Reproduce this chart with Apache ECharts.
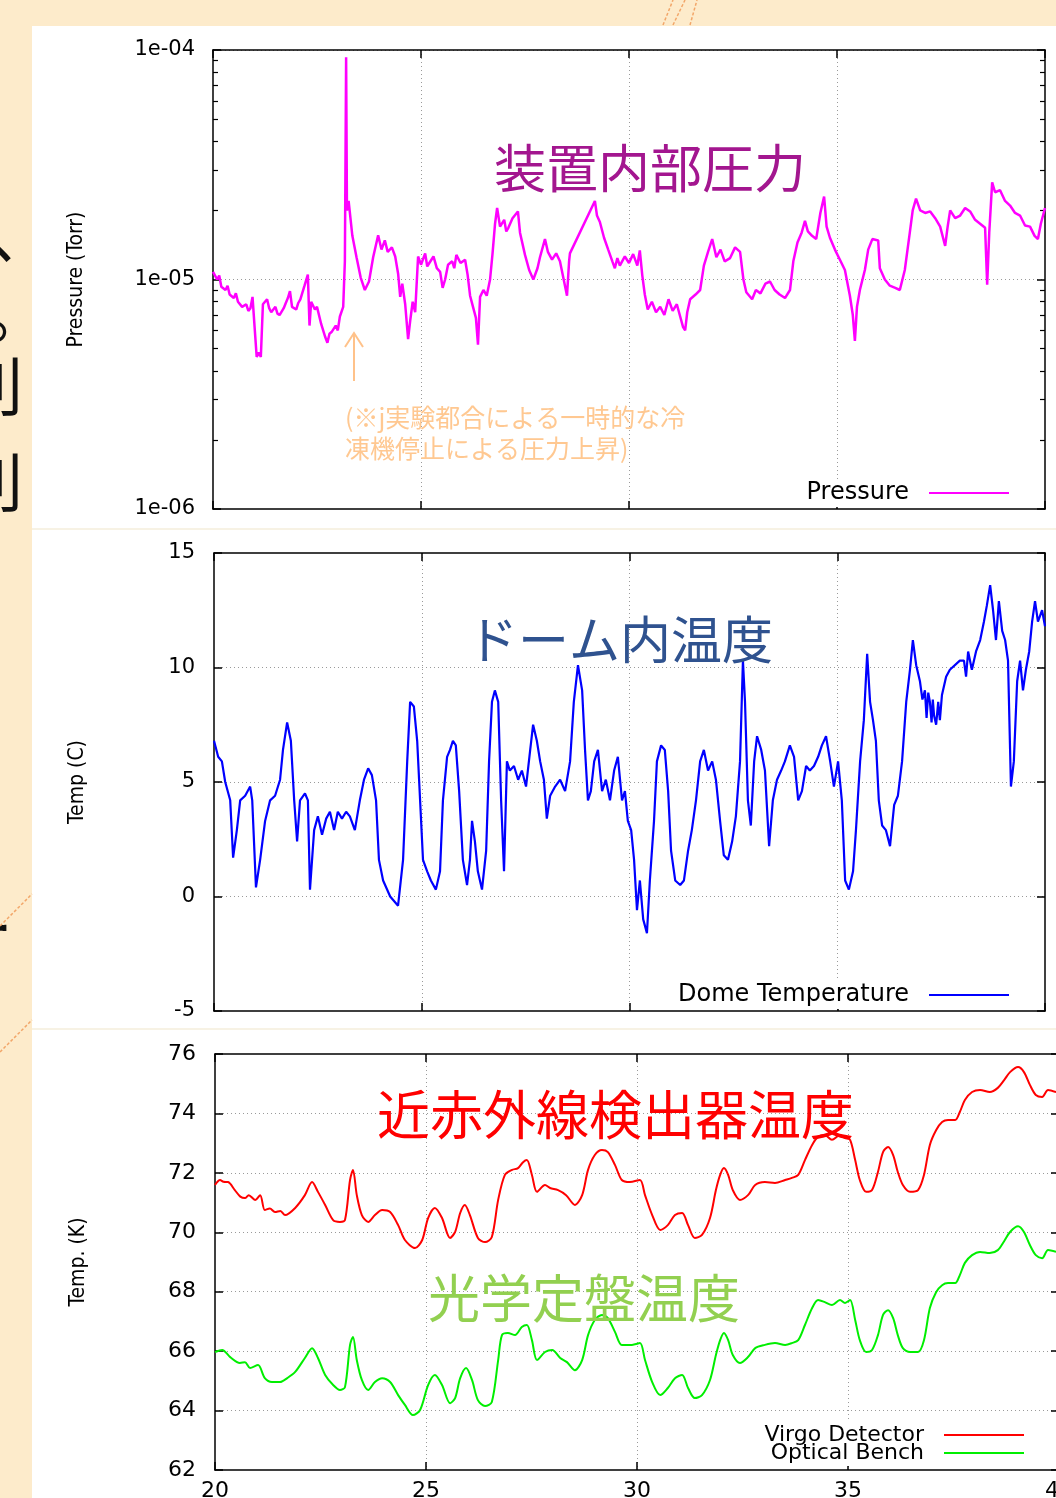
<!DOCTYPE html>
<html>
<head>
<meta charset="utf-8">
<script src="https://cdn.jsdelivr.net/npm/echarts@6/dist/echarts.min.js"></script>
<style>
  html, body { margin: 0; padding: 0; background: #FDEBCB; }
  #chart { width: 1056px; height: 1498px; }
</style>
</head>
<body>
<div id="chart"></div>
<script>
// ---- data: [day, value] ----
// chamber pressure, in units of 1e-6 Torr
const pressureMicroTorr = [
  [20.0,10.8],[20.1,10.0],[20.15,10.4],[20.2,9.3],[20.3,9.0],[20.35,9.4],[20.4,8.6],[20.5,8.3],[20.55,8.7],[20.6,8.0],
  [20.7,7.6],[20.8,7.8],[20.85,7.3],[20.9,7.5],[20.95,8.4],[21.0,6.2],[21.05,4.6],[21.1,4.8],[21.15,4.6],[21.2,7.8],
  [21.3,8.2],[21.35,7.5],[21.4,7.2],[21.5,7.6],[21.55,7.1],[21.6,7.0],[21.7,7.5],[21.75,7.9],[21.8,8.3],[21.85,8.9],
  [21.9,7.6],[22.0,7.4],[22.05,7.9],[22.1,8.2],[22.2,9.4],[22.28,10.5],[22.32,6.3],[22.36,8.0],[22.45,7.4],[22.5,7.6],
  [22.6,6.4],[22.7,5.6],[22.75,5.3],[22.8,5.8],[22.85,5.9],[22.95,6.3],[23.0,6.0],[23.05,6.9],[23.13,7.6],[23.17,12.0],
  [23.2,93],[23.22,20],[23.26,22],[23.35,15.5],[23.45,12.5],[23.55,10.2],[23.65,9.0],[23.75,9.8],[23.85,12.5],[23.97,15.6],
  [24.05,13.5],[24.13,14.8],[24.2,13.2],[24.3,13.8],[24.38,12.6],[24.45,10.6],[24.5,8.4],[24.55,9.6],[24.62,7.8],[24.69,5.5],
  [24.74,6.6],[24.8,8.0],[24.86,7.2],[24.93,12.6],[25.0,11.6],[25.1,13.0],[25.15,11.4],[25.2,11.8],[25.3,12.6],[25.38,11.2],
  [25.46,10.8],[25.52,9.2],[25.58,10.0],[25.65,11.6],[25.75,12.0],[25.8,11.2],[25.85,12.8],[25.95,11.8],[26.06,12.2],[26.12,10.5],
  [26.18,8.5],[26.25,7.6],[26.32,6.8],[26.37,5.2],[26.42,8.4],[26.5,9.0],[26.58,8.5],[26.66,10.0],[26.72,13.0],[26.78,17.5],
  [26.83,20.5],[26.9,17.0],[27.0,18.2],[27.05,16.2],[27.1,16.8],[27.2,18.5],[27.33,19.8],[27.38,16.0],[27.5,12.8],[27.6,11.0],
  [27.7,10.0],[27.8,11.2],[27.86,12.5],[27.98,15.0],[28.05,13.2],[28.15,12.2],[28.25,13.0],[28.34,12.0],[28.42,10.2],[28.51,8.5],
  [28.56,12.0],[28.58,13.0],[29.18,22.0],[29.23,19.0],[29.3,17.8],[29.4,15.2],[29.5,13.5],[29.6,12.0],[29.66,11.2],[29.72,12.4],
  [29.78,11.5],[29.9,12.6],[30.0,11.8],[30.1,12.9],[30.2,11.5],[30.26,13.4],[30.32,10.4],[30.38,8.6],[30.45,7.4],[30.55,8.0],
  [30.65,7.2],[30.75,7.6],[30.85,7.0],[30.95,8.2],[31.05,7.3],[31.15,7.8],[31.23,6.9],[31.3,6.2],[31.35,6.0],[31.4,7.2],
  [31.47,8.2],[31.6,8.6],[31.71,9.0],[31.8,11.5],[31.9,13.2],[32.0,15.0],[32.1,12.5],[32.2,13.5],[32.3,12.0],[32.43,12.4],
  [32.55,13.8],[32.67,13.2],[32.75,10.0],[32.82,8.8],[32.96,8.2],[33.05,9.0],[33.16,8.7],[33.28,9.6],[33.39,9.8],[33.5,9.0],
  [33.62,8.6],[33.75,8.3],[33.87,9.0],[33.95,12.0],[34.05,14.5],[34.15,16.0],[34.23,18.0],[34.3,16.2],[34.4,15.5],[34.5,15.0],
  [34.6,19.5],[34.69,23.0],[34.75,17.0],[34.83,15.2],[34.95,13.5],[35.07,12.2],[35.19,11.0],[35.31,8.5],[35.38,7.0],[35.43,5.4],
  [35.48,7.6],[35.55,9.0],[35.67,11.0],[35.75,13.5],[35.85,15.0],[35.99,14.8],[36.03,11.2],[36.15,10.0],[36.27,9.4],[36.4,9.2],
  [36.51,9.0],[36.63,11.0],[36.75,16.0],[36.82,20.0],[36.9,22.5],[37.0,20.0],[37.12,19.5],[37.24,19.8],[37.36,18.5],[37.48,17.0],
  [37.6,14.0],[37.66,17.0],[37.72,20.0],[37.84,18.5],[37.96,19.0],[38.08,20.5],[38.2,19.8],[38.32,18.2],[38.44,17.5],[38.56,16.8],
  [38.61,9.5],[38.66,16.0],[38.73,26.5],[38.8,24.0],[38.92,24.5],[39.04,22.0],[39.16,21.0],[39.28,19.5],[39.4,19.0],[39.52,17.2],
  [39.64,17.0],[39.75,15.5],[39.83,15.0],[39.9,17.5],[40.0,20.5]
];

// temperature inside the dome, deg C
const domeTemp = [
  [20.0,6.8],[20.1,6.1],[20.19,5.9],[20.27,5.0],[20.39,4.2],[20.46,1.7],[20.55,2.9],[20.63,4.2],[20.75,4.4],[20.87,4.8],
  [20.92,4.2],[21.01,0.4],[21.11,1.6],[21.23,3.3],[21.35,4.2],[21.47,4.4],[21.59,5.1],[21.66,6.4],[21.76,7.6],[21.85,6.8],
  [21.93,4.2],[22.0,2.4],[22.07,4.2],[22.19,4.5],[22.26,4.2],[22.31,0.3],[22.41,2.9],[22.5,3.5],[22.6,2.7],[22.7,3.4],
  [22.79,3.7],[22.89,2.9],[22.98,3.7],[23.08,3.4],[23.18,3.7],[23.27,3.5],[23.39,2.9],[23.51,4.2],[23.61,5.1],[23.71,5.6],
  [23.8,5.3],[23.9,4.2],[23.97,1.6],[24.07,0.7],[24.24,0.0],[24.43,-0.4],[24.55,1.6],[24.65,5.9],[24.72,8.5],[24.81,8.3],
  [24.89,6.8],[24.96,4.2],[25.03,1.6],[25.13,1.1],[25.22,0.7],[25.34,0.3],[25.44,1.1],[25.51,4.2],[25.61,6.1],[25.68,6.4],
  [25.75,6.8],[25.82,6.6],[25.9,4.6],[25.99,1.6],[26.09,0.5],[26.16,1.6],[26.21,3.3],[26.28,2.4],[26.35,1.1],[26.45,0.3],
  [26.55,2.0],[26.62,5.9],[26.69,8.5],[26.76,9.0],[26.84,8.5],[26.91,4.2],[26.98,1.1],[27.05,5.9],[27.12,5.5],[27.22,5.7],
  [27.32,5.1],[27.41,5.5],[27.51,4.8],[27.61,6.4],[27.68,7.5],[27.77,6.8],[27.85,5.9],[27.94,5.1],[28.01,3.4],[28.09,4.4],
  [28.21,4.8],[28.33,5.1],[28.45,4.6],[28.57,5.9],[28.66,8.5],[28.76,10.1],[28.86,9.0],[28.93,6.4],[29.0,4.2],[29.07,4.6],
  [29.15,5.9],[29.24,6.4],[29.34,4.6],[29.43,5.1],[29.53,4.2],[29.63,5.5],[29.72,6.1],[29.82,4.2],[29.89,4.6],[29.96,3.3],
  [30.04,2.9],[30.11,1.6],[30.18,-0.6],[30.25,0.7],[30.33,-1.0],[30.42,-1.6],[30.49,0.7],[30.59,3.3],[30.66,5.9],[30.76,6.6],
  [30.85,6.4],[30.93,4.6],[31.0,2.0],[31.1,0.7],[31.22,0.5],[31.31,0.7],[31.41,2.0],[31.5,2.9],[31.6,4.2],[31.7,5.9],
  [31.79,6.4],[31.89,5.5],[31.99,5.9],[32.08,5.1],[32.18,3.3],[32.27,1.8],[32.37,1.6],[32.47,2.4],[32.56,3.5],[32.66,5.9],
  [32.73,10.3],[32.78,8.5],[32.85,4.2],[32.92,3.1],[33.0,5.9],[33.07,7.0],[33.17,6.4],[33.26,5.5],[33.36,2.2],[33.45,4.2],
  [33.55,5.1],[33.65,5.5],[33.74,5.9],[33.86,6.6],[33.96,6.1],[34.06,4.2],[34.15,4.6],[34.25,5.7],[34.34,5.5],[34.44,5.7],
  [34.54,6.1],[34.63,6.6],[34.73,7.0],[34.83,5.9],[34.92,4.8],[35.02,5.9],[35.11,4.2],[35.19,0.7],[35.28,0.3],[35.38,1.1],
  [35.45,2.9],[35.55,5.9],[35.64,7.7],[35.72,10.6],[35.79,8.5],[35.86,7.7],[35.93,6.8],[36.0,4.2],[36.08,3.1],[36.17,2.9],
  [36.27,2.2],[36.37,4.0],[36.46,4.4],[36.56,5.9],[36.66,8.5],[36.75,9.9],[36.82,11.2],[36.9,10.1],[36.99,9.4],[37.05,8.6],
  [37.11,9.0],[37.15,7.8],[37.19,8.9],[37.23,8.5],[37.27,7.6],[37.3,8.6],[37.33,7.9],[37.38,7.5],[37.43,8.5],[37.47,7.7],
  [37.52,8.8],[37.62,9.6],[37.71,9.9],[37.95,10.3],[38.05,10.3],[38.1,9.6],[38.15,10.7],[38.24,9.9],[38.34,10.7],[38.44,11.2],
  [38.53,12.0],[38.6,12.7],[38.68,13.6],[38.75,12.5],[38.82,11.2],[38.89,12.9],[38.97,11.6],[39.04,11.2],[39.11,10.3],[39.18,4.8],
  [39.25,5.9],[39.33,9.4],[39.4,10.3],[39.47,9.0],[39.54,9.9],[39.62,10.7],[39.69,12.0],[39.76,12.9],[39.83,12.0],[39.93,12.5],
  [40.0,11.8]
];

// near-infrared detector temperature, K
const virgoDetector = [
  [20.0,71.59],[20.12,71.76],[20.2,71.7],[20.31,71.69],[20.47,71.42],[20.6,71.2],[20.71,71.15],[20.8,71.25],[20.95,71.09],[21.07,71.25],
  [21.18,70.75],[21.3,70.8],[21.42,70.68],[21.55,70.72],[21.66,70.58],[21.9,70.82],[22.13,71.25],[22.3,71.69],[22.44,71.36],[22.61,70.92],
  [22.8,70.41],[22.96,70.35],[23.08,70.41],[23.2,71.76],[23.27,72.1],[23.36,71.25],[23.48,70.58],[23.63,70.35],[23.79,70.58],[23.96,70.75],
  [24.15,70.68],[24.34,70.24],[24.5,69.74],[24.74,69.47],[24.91,69.74],[25.05,70.48],[25.21,70.82],[25.38,70.48],[25.57,69.81],[25.69,70.01],
  [25.81,70.65],[25.92,70.92],[26.04,70.58],[26.23,69.81],[26.4,69.67],[26.56,69.84],[26.71,71.09],[26.87,71.93],[27.04,72.1],[27.18,72.16],
  [27.3,72.36],[27.39,72.43],[27.51,71.93],[27.63,71.36],[27.82,71.59],[27.94,71.49],[28.13,71.42],[28.32,71.25],[28.53,70.92],[28.7,71.25],
  [28.84,72.1],[29.0,72.6],[29.17,72.77],[29.31,72.7],[29.48,72.26],[29.64,71.76],[29.83,71.69],[30.07,71.76],[30.19,71.25],[30.36,70.58],
  [30.55,70.08],[30.73,70.24],[30.9,70.58],[31.07,70.65],[31.21,70.24],[31.37,69.81],[31.54,69.91],[31.73,70.48],[31.87,71.42],[31.97,71.93],
  [32.06,72.16],[32.16,71.93],[32.27,71.42],[32.44,71.09],[32.63,71.25],[32.8,71.59],[33.03,71.69],[33.27,71.66],[33.51,71.76],[33.67,71.83],
  [33.82,71.93],[33.98,72.43],[34.15,72.94],[34.29,73.21],[34.45,73.27],[34.62,73.11],[34.81,73.27],[34.93,73.17],[35.05,73.11],[35.17,72.43],
  [35.28,71.76],[35.43,71.36],[35.57,71.42],[35.71,72.03],[35.83,72.7],[35.95,72.87],[36.07,72.6],[36.18,72.03],[36.3,71.59],[36.47,71.36],
  [36.66,71.42],[36.8,71.93],[36.94,72.94],[37.09,73.44],[37.23,73.71],[37.37,73.78],[37.54,73.78],[37.65,74.05],[37.77,74.45],[37.94,74.72],
  [38.13,74.79],[38.36,74.72],[38.55,74.86],[38.7,75.12],[38.84,75.39],[39.03,75.56],[39.17,75.39],[39.31,74.96],[39.45,74.62],[39.6,74.55],
  [39.74,74.79],[39.93,74.72]
];

// optical bench temperature, K
const opticalBench = [
  [20.0,65.97],[20.17,66.04],[20.36,65.8],[20.59,65.6],[20.71,65.63],[20.83,65.43],[21.02,65.53],[21.18,65.09],[21.35,64.96],[21.54,64.96],
  [21.71,65.09],[21.9,65.3],[22.13,65.77],[22.3,66.1],[22.44,65.77],[22.61,65.2],[22.8,64.86],[22.96,64.69],[23.08,64.79],[23.2,66.21],
  [23.27,66.48],[23.36,65.7],[23.48,65.03],[23.63,64.69],[23.79,64.96],[23.96,65.09],[24.15,64.96],[24.34,64.52],[24.5,64.19],[24.69,63.85],
  [24.86,64.02],[25.05,64.86],[25.21,65.2],[25.38,64.86],[25.57,64.25],[25.69,64.42],[25.81,65.09],[25.95,65.43],[26.09,65.03],[26.23,64.35],
  [26.4,64.15],[26.56,64.29],[26.71,65.7],[26.8,66.54],[26.94,66.61],[27.11,66.54],[27.27,66.81],[27.39,66.88],[27.51,66.37],[27.63,65.7],
  [27.82,65.97],[27.99,66.04],[28.18,65.77],[28.34,65.63],[28.53,65.36],[28.7,65.7],[28.84,66.54],[29.0,67.05],[29.17,67.22],[29.31,67.11],
  [29.48,66.64],[29.64,66.21],[29.88,66.21],[30.07,66.27],[30.19,65.7],[30.36,64.96],[30.55,64.52],[30.73,64.76],[30.9,65.09],[31.07,65.2],
  [31.21,64.76],[31.37,64.42],[31.54,64.52],[31.73,65.03],[31.87,65.87],[31.97,66.37],[32.06,66.61],[32.16,66.37],[32.27,65.87],[32.44,65.6],
  [32.63,65.8],[32.8,66.1],[33.03,66.21],[33.27,66.27],[33.51,66.21],[33.67,66.27],[33.82,66.37],[33.98,66.88],[34.15,67.45],[34.29,67.72],
  [34.45,67.65],[34.62,67.55],[34.81,67.72],[34.93,67.62],[35.05,67.72],[35.17,67.05],[35.28,66.37],[35.43,65.97],[35.57,66.04],[35.71,66.54],
  [35.83,67.22],[35.95,67.38],[36.07,67.11],[36.18,66.54],[36.3,66.1],[36.47,65.97],[36.66,65.97],[36.8,66.37],[36.94,67.45],[37.09,67.99],
  [37.23,68.22],[37.37,68.29],[37.54,68.29],[37.65,68.56],[37.77,68.97],[37.94,69.23],[38.13,69.34],[38.36,69.3],[38.55,69.4],[38.7,69.7],
  [38.84,70.01],[39.03,70.2],[39.17,70.01],[39.31,69.57],[39.45,69.23],[39.6,69.13],[39.74,69.4],[39.93,69.34]
];

// axis settings
const dayRange = [20, 40];
const dayStep = 5;
const pressureRange = [1e-6, 1e-4];
const pressureDecades = [-6, -4];
const minorMultipliers = [2, 3, 4, 5, 6, 7, 8, 9];
const domeRange = [-5, 15];
const domeStep = 5;
const kelvinRange = [62, 76];
const kelvinStep = 2;

// headings and notes
const headings = ['装置内部圧力', 'ドーム内温度', '近赤外線検出器温度', '光学定盤温度'];
const noteLines = ['(※j実験都合による一時的な冷', '凍機停止による圧力上昇)'];
const seriesNames = ['Pressure', 'Dome Temperature', 'Virgo Detector', 'Optical Bench'];
const axisTitles = ['Pressure (Torr)', 'Temp (C)', 'Temp. (K)'];

// ---- chart ----
const pressureTorr = pressureMicroTorr.map(([d, v]) => [d, v * 1e-6]);

// minor log ticks (2..9 in each decade), as exponents for a helper axis
const minorExponents = [];
for (let e = pressureDecades[0]; e < pressureDecades[1]; e++) {
  minorMultipliers.forEach(m => minorExponents.push(e + Math.log10(m)));
}

const TICK_FONT = '"DejaVu Sans", "Liberation Sans", sans-serif';
const NAME_FONT = '"DejaVu Sans Condensed", "Liberation Sans Narrow", "Liberation Sans", sans-serif';
const CJK = '"Noto Sans CJK JP", "Noto Sans CJK SC", sans-serif';
const frame = { show: true, onZero: false, lineStyle: { color: '#000', width: 1.5 } };
const tick = { show: true, inside: true, length: 8, lineStyle: { color: '#000', width: 1.5 } };
const dotted = { show: true, showMinLine: false, showMaxLine: false,
  lineStyle: { color: '#9a9a9a', width: 1, type: [1, 3] } };

const grids = [
  { left: 213, top: 50, width: 832, height: 459, outerBoundsMode: 'none' },
  { left: 214, top: 553, width: 831, height: 458, outerBoundsMode: 'none' },
  { left: 215, top: 1054, width: 844, height: 416, outerBoundsMode: 'none' }
];

function xPair(g, showLabels) {
  const base = { gridIndex: g, type: 'value', min: dayRange[0], max: dayRange[1], interval: dayStep,
    axisLine: frame, axisTick: tick };
  return [
    Object.assign({}, base, { position: 'bottom', splitLine: dotted,
      axisLabel: showLabels
        ? { show: true, color: '#000', fontFamily: TICK_FONT, fontSize: 22, margin: 10 }
        : { show: false } }),
    Object.assign({}, base, { position: 'top', splitLine: { show: false }, axisLabel: { show: false } })
  ];
}

function yPair(g, spec, label, title) {
  const base = Object.assign({ gridIndex: g, axisLine: frame, axisTick: tick }, spec);
  return [
    Object.assign({}, base, { position: 'left', splitLine: dotted,
      axisLabel: Object.assign({ show: true, color: '#000', fontFamily: TICK_FONT }, label),
      name: title, nameLocation: 'middle', nameGap: 126,
      nameTextStyle: { color: '#000', fontFamily: NAME_FONT, fontSize: 21 } }),
    Object.assign({}, base, { position: 'right', splitLine: { show: false }, axisLabel: { show: false } })
  ];
}

function minorTickAxis(position) {
  return { gridIndex: 0, type: 'value', position, min: pressureDecades[0], max: pressureDecades[1],
    axisLine: { show: false }, axisLabel: { show: false }, splitLine: { show: false },
    axisTick: { show: true, inside: true, length: 5, customValues: minorExponents,
      lineStyle: { color: '#000', width: 1.2 } } };
}

const logSpec = { type: 'log', logBase: 10, min: pressureRange[0], max: pressureRange[1] };
const expLabel = v => {
  const e = Math.round(Math.log10(v));
  return '1e' + (e < 0 ? '-' : '+') + String(Math.abs(e)).padStart(2, '0');
};

const legendBase = {
  orient: 'vertical', align: 'right', icon: 'rect', itemWidth: 80, itemHeight: 2,
  backgroundColor: '#fff', padding: [2, 0, 2, 6], selectedMode: false,
  textStyle: { color: '#000', fontFamily: TICK_FONT, padding: [0, 15, 0, 0] }
};

function headingText(text, x, y, size, color) {
  return { type: 'text', x, y, z: 10, silent: true,
    style: { text, fill: color, fontFamily: CJK, fontSize: size, textAlign: 'left', textVerticalAlign: 'middle', verticalAlign: 'middle' } };
}
function fragment(text, x, y) {
  return { type: 'text', x, y, z: -6, silent: true,
    style: { text, fill: '#111', fontFamily: CJK, fontSize: 64, textVerticalAlign: 'top', verticalAlign: 'top' } };
}
function deco(x1, y1, x2, y2) {
  return { type: 'line', z: -4, silent: true, shape: { x1, y1, x2, y2 },
    style: { stroke: '#F2A669', lineWidth: 1.5, lineDash: [3, 2] } };
}

const option = {
  animation: false,
  backgroundColor: '#FDEBCB',
  grid: grids,
  xAxis: [].concat(xPair(0, false), xPair(1, false), xPair(2, true)),
  yAxis: [].concat(
    yPair(0, logSpec, { fontSize: 21, margin: 18, formatter: expLabel }, axisTitles[0]),
    yPair(1, { type: 'value', min: domeRange[0], max: domeRange[1], interval: domeStep }, { fontSize: 21, margin: 19 }, axisTitles[1]),
    yPair(2, { type: 'value', min: kelvinRange[0], max: kelvinRange[1], interval: kelvinStep }, { fontSize: 22, margin: 19 }, axisTitles[2]),
    [minorTickAxis('left'), minorTickAxis('right')]
  ),
  legend: [
    Object.assign({}, legendBase, { data: [seriesNames[0]], right: 47, top: 479,
      textStyle: Object.assign({}, legendBase.textStyle, { fontSize: 24 }) }),
    Object.assign({}, legendBase, { data: [seriesNames[1]], right: 47, top: 981,
      textStyle: Object.assign({}, legendBase.textStyle, { fontSize: 24 }) }),
    Object.assign({}, legendBase, { data: [seriesNames[2], seriesNames[3]], right: 32, top: 1422, itemGap: -4,
      textStyle: Object.assign({}, legendBase.textStyle, { fontSize: 22 }) })
  ],
  series: [
    { name: seriesNames[0], type: 'line', xAxisIndex: 0, yAxisIndex: 0, data: pressureTorr,
      showSymbol: false, color: '#FF00FF', lineStyle: { width: 2.5, color: '#FF00FF' } },
    { name: seriesNames[1], type: 'line', xAxisIndex: 2, yAxisIndex: 2, data: domeTemp,
      showSymbol: false, color: '#0000FF', lineStyle: { width: 2.2, color: '#0000FF' } },
    { name: seriesNames[2], type: 'line', xAxisIndex: 4, yAxisIndex: 4, data: virgoDetector, smooth: 0.3,
      showSymbol: false, color: '#FF0000', lineStyle: { width: 2, color: '#FF0000' } },
    { name: seriesNames[3], type: 'line', xAxisIndex: 4, yAxisIndex: 4, data: opticalBench, smooth: 0.3,
      showSymbol: false, color: '#00EE00', lineStyle: { width: 2, color: '#00EE00' } }
  ],
  graphic: [
    // white sheet under the plots
    { type: 'rect', z: -5, silent: true, shape: { x: 32, y: 26, width: 1024, height: 1472 }, style: { fill: '#fff' } },
    { type: 'line', z: -4, silent: true, shape: { x1: 32, y1: 529, x2: 1056, y2: 529 }, style: { stroke: '#F7F2E4', lineWidth: 2 } },
    { type: 'line', z: -4, silent: true, shape: { x1: 32, y1: 1029, x2: 1056, y2: 1029 }, style: { stroke: '#F7F2E4', lineWidth: 2 } },
    // slide text running off the left edge
    fragment('、', -11, 202),
    fragment('。', -16, 281),
    fragment('則', -41, 354),
    fragment('則', -41, 450),
    fragment('ー', -51, 896),
    // slide ornaments
    deco(0, 926, 32, 894),
    deco(0, 1052, 32, 1020),
    deco(663, 25, 673, 0),
    deco(673, 25, 685, 0),
    deco(690, 25, 697, 0),
    // headings
    headingText(headings[0], 494, 168, 52, '#A3168F'),
    headingText(headings[1], 467, 640, 51, '#2F528F'),
    headingText(headings[2], 377, 1115, 53, '#FF0000'),
    headingText(headings[3], 428, 1298, 52, '#92D050'),
    // note on the pressure spike
    { type: 'line', z: 10, silent: true, shape: { x1: 354, y1: 333, x2: 354, y2: 381 }, style: { stroke: '#FFC28A', lineWidth: 2 } },
    { type: 'polyline', z: 10, silent: true, shape: { points: [[345, 347], [354, 333], [363, 347]] }, style: { stroke: '#FFC28A', lineWidth: 2, fill: null } },
    { type: 'text', x: 345, y: 417, z: 10, silent: true,
      style: { text: noteLines[0], fill: '#FFC891', fontFamily: CJK, fontSize: 25, textVerticalAlign: 'middle', verticalAlign: 'middle' } },
    { type: 'text', x: 345, y: 448, z: 10, silent: true,
      style: { text: noteLines[1], fill: '#FFC891', fontFamily: CJK, fontSize: 25, textVerticalAlign: 'middle', verticalAlign: 'middle' } }
  ]
};

const chart = echarts.init(document.getElementById('chart'), null, { renderer: 'canvas' });
chart.setOption(option);
</script>
</body>
</html>
